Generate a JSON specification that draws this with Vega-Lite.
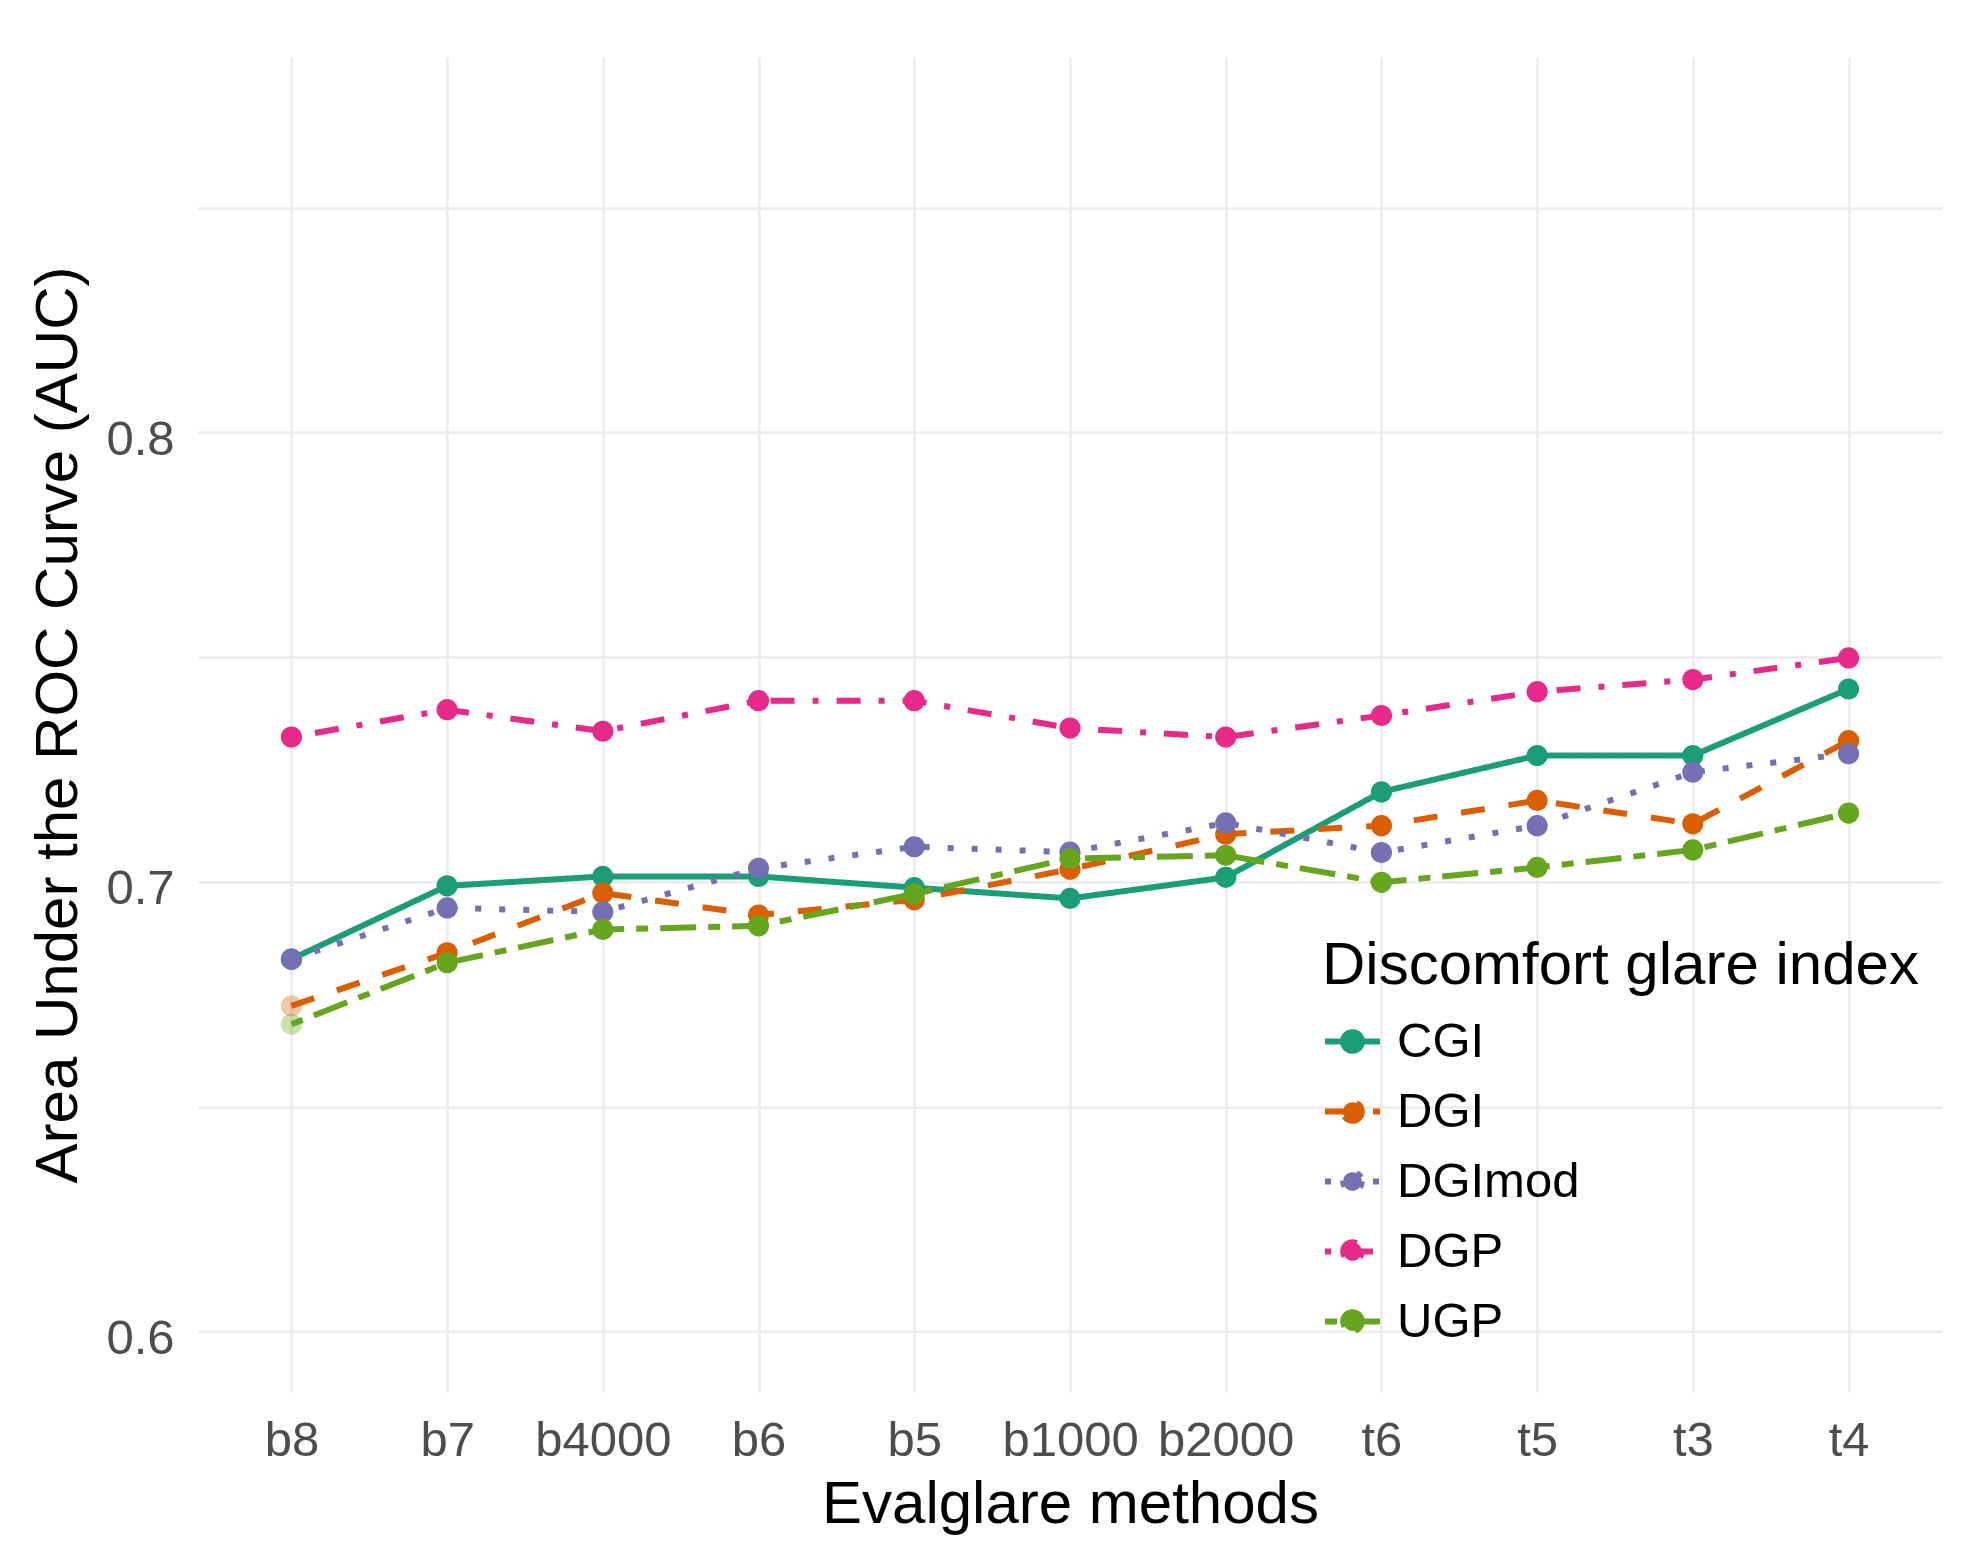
{
  "$schema": "https://vega.github.io/schema/vega-lite/v6.json",
  "width": 1744,
  "height": 1335,
  "autosize": {"type": "none"},
  "padding": {"left": 198, "top": 57, "right": 35, "bottom": 175},
  "background": "white",
  "data": {
    "values": [
      {"method": "b8", "index": "CGI", "auc": 0.6828},
      {"method": "b7", "index": "CGI", "auc": 0.6991},
      {"method": "b4000", "index": "CGI", "auc": 0.7012},
      {"method": "b6", "index": "CGI", "auc": 0.7012},
      {"method": "b5", "index": "CGI", "auc": 0.6987},
      {"method": "b1000", "index": "CGI", "auc": 0.6963},
      {"method": "b2000", "index": "CGI", "auc": 0.7010},
      {"method": "t6", "index": "CGI", "auc": 0.7200},
      {"method": "t5", "index": "CGI", "auc": 0.7281},
      {"method": "t3", "index": "CGI", "auc": 0.7281},
      {"method": "t4", "index": "CGI", "auc": 0.7429},
      {"method": "b8", "index": "DGI", "auc": 0.6724},
      {"method": "b7", "index": "DGI", "auc": 0.6842},
      {"method": "b4000", "index": "DGI", "auc": 0.6975},
      {"method": "b6", "index": "DGI", "auc": 0.6926},
      {"method": "b5", "index": "DGI", "auc": 0.6960},
      {"method": "b1000", "index": "DGI", "auc": 0.7028},
      {"method": "b2000", "index": "DGI", "auc": 0.7106},
      {"method": "t6", "index": "DGI", "auc": 0.7125},
      {"method": "t5", "index": "DGI", "auc": 0.7181},
      {"method": "t3", "index": "DGI", "auc": 0.7129},
      {"method": "t4", "index": "DGI", "auc": 0.7314},
      {"method": "b8", "index": "DGImod", "auc": 0.6828},
      {"method": "b7", "index": "DGImod", "auc": 0.6942},
      {"method": "b4000", "index": "DGImod", "auc": 0.6933},
      {"method": "b6", "index": "DGImod", "auc": 0.7030},
      {"method": "b5", "index": "DGImod", "auc": 0.7078},
      {"method": "b1000", "index": "DGImod", "auc": 0.7066},
      {"method": "b2000", "index": "DGImod", "auc": 0.7131},
      {"method": "t6", "index": "DGImod", "auc": 0.7065},
      {"method": "t5", "index": "DGImod", "auc": 0.7125},
      {"method": "t3", "index": "DGImod", "auc": 0.7244},
      {"method": "t4", "index": "DGImod", "auc": 0.7285},
      {"method": "b8", "index": "DGP", "auc": 0.7322},
      {"method": "b7", "index": "DGP", "auc": 0.7383},
      {"method": "b4000", "index": "DGP", "auc": 0.7335},
      {"method": "b6", "index": "DGP", "auc": 0.7403},
      {"method": "b5", "index": "DGP", "auc": 0.7403},
      {"method": "b1000", "index": "DGP", "auc": 0.7342},
      {"method": "b2000", "index": "DGP", "auc": 0.7322},
      {"method": "t6", "index": "DGP", "auc": 0.7370},
      {"method": "t5", "index": "DGP", "auc": 0.7423},
      {"method": "t3", "index": "DGP", "auc": 0.7450},
      {"method": "t4", "index": "DGP", "auc": 0.7498},
      {"method": "b8", "index": "UGP", "auc": 0.6683},
      {"method": "b7", "index": "UGP", "auc": 0.6820},
      {"method": "b4000", "index": "UGP", "auc": 0.6894},
      {"method": "b6", "index": "UGP", "auc": 0.6902},
      {"method": "b5", "index": "UGP", "auc": 0.6973},
      {"method": "b1000", "index": "UGP", "auc": 0.7052},
      {"method": "b2000", "index": "UGP", "auc": 0.7059},
      {"method": "t6", "index": "UGP", "auc": 0.6999},
      {"method": "t5", "index": "UGP", "auc": 0.7032},
      {"method": "t3", "index": "UGP", "auc": 0.7071},
      {"method": "t4", "index": "UGP", "auc": 0.7153}
    ]
  },
  "encoding": {
    "x": {
      "field": "method",
      "type": "ordinal",
      "sort": ["b8", "b7", "b4000", "b6", "b5", "b1000", "b2000", "t6", "t5", "t3", "t4"],
      "scale": {"type": "point", "padding": 0.6},
      "axis": {
        "title": "Evalglare methods",
        "labelAngle": 0,
        "labelPadding": 24,
        "titlePadding": 10
      }
    },
    "y": {
      "field": "auc",
      "type": "quantitative",
      "scale": {"domain": [0.5865, 0.8835], "nice": false, "zero": false},
      "axis": {
        "title": "Area Under the ROC Curve (AUC)",
        "values": [0.6, 0.65, 0.7, 0.75, 0.8, 0.85],
        "labelExpr": "(datum.value == 0.6 || datum.value == 0.7 || datum.value == 0.8) ? format(datum.value, '.1f') : ''",
        "labelPadding": 24,
        "labelOffset": 7,
        "titlePadding": 16
      }
    },
    "color": {
      "field": "index",
      "type": "nominal",
      "scale": {
        "domain": ["CGI", "DGI", "DGImod", "DGP", "UGP"],
        "range": ["#1B9E77", "#D95F02", "#7570B3", "#E7298A", "#66A61E"]
      },
      "legend": {
        "title": "Discomfort glare index",
        "orient": "none",
        "legendX": 1124,
        "legendY": 880,
        "symbolType": "M-1,0L1,0M0.34,0A0.34,0.34,0,1,1,-0.34,0A0.34,0.34,0,1,1,0.34,0Z",
        "symbolSize": 3025,
        "symbolStrokeWidth": 6,
        "encode": {
          "symbols": {
            "update": {
              "fill": {"scale": "color", "field": "value"},
              "stroke": {"scale": "color", "field": "value"},
              "opacity": {"value": 1}
            }
          }
        }
      }
    }
  },
  "layer": [
    {
      "mark": {"type": "line", "strokeWidth": 6},
      "encoding": {
        "strokeDash": {
          "field": "index",
          "type": "nominal",
          "scale": {
            "domain": ["CGI", "DGI", "DGImod", "DGP", "UGP"],
            "range": [[1, 0], [24, 24], [6, 18], [6, 18, 24, 18], [12, 12, 36, 12]]
          },
          "legend": {
            "title": "Discomfort glare index",
            "orient": "none",
            "legendX": 1124,
            "legendY": 880
          }
        }
      }
    },
    {
      "mark": {"type": "point", "filled": true, "size": 450},
      "encoding": {
        "opacity": {
          "condition": {"test": "datum.method == 'b8' && (datum.index == 'DGI' || datum.index == 'UGP')", "value": 0.35},
          "value": 1
        }
      }
    }
  ],
  "config": {
    "font": "Liberation Sans",
    "view": {"stroke": null},
    "axis": {
      "domain": false,
      "ticks": false,
      "tickSize": 0,
      "grid": true,
      "gridColor": "#EBEBEB",
      "gridWidth": 2.4,
      "labelFontSize": 49,
      "labelColor": "#4D4D4D",
      "labelOverlap": false,
      "labelFlush": false,
      "titleFontSize": 60,
      "titleFontWeight": "normal",
      "titleColor": "#000000"
    },
    "legend": {
      "padding": 0,
      "titleFontSize": 60,
      "titleFontWeight": "normal",
      "titleColor": "#000000",
      "titleLimit": 1000,
      "titlePadding": 14,
      "labelFontSize": 49,
      "labelColor": "#000000",
      "labelLimit": 1000,
      "labelOffset": 14,
      "rowPadding": 14
    }
  }
}
